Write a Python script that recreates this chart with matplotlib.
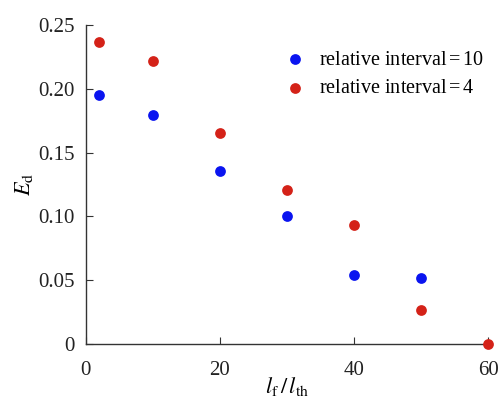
import matplotlib
matplotlib.use("Agg")
import matplotlib.pyplot as plt

plt.rcParams['font.family'] = ['Liberation Serif', 'DejaVu Serif']
plt.rcParams['mathtext.fontset'] = 'stix'

# data
x_blue = [2, 10, 20, 30, 40, 50]
ed_blue = [0.195, 0.1795, 0.1355, 0.100, 0.054, 0.052]
x_red = [2, 10, 20, 30, 40, 50, 60]
ed_red = [0.237, 0.222, 0.165, 0.1205, 0.093, 0.0265, 0.0]

xticks = [0, 20, 40, 60]
yticks = [0, 0.05, 0.10, 0.15, 0.20, 0.25]
ytick_labels = ['0', '0.05', '0.10', '0.15', '0.20', '0.25']

fig = plt.figure(figsize=(4.99, 4.0), dpi=100)
ax = fig.add_axes([0.172, 0.14, 0.806, 0.7975])

ax.scatter(x_blue, ed_blue, s=60, color='#0a14f0', label='relative interval$\\,$=$\\,$10',
           zorder=3, clip_on=False, linewidths=0)
ax.scatter(x_red, ed_red, s=60, color='#d42218', label='relative interval$\\,$=$\\,$4',
           zorder=3, clip_on=False, linewidths=0)

ax.set_xlim(0, 60)
ax.set_ylim(0, 0.25)
ax.set_xticks(xticks)
ax.set_yticks(yticks)
ax.set_yticklabels(ytick_labels)

for s in ['top', 'right']:
    ax.spines[s].set_visible(False)
for s in ['left', 'bottom']:
    ax.spines[s].set_color('#333333')
    ax.spines[s].set_linewidth(1.0)

ax.tick_params(direction='in', length=5, labelsize=15, colors='#333333',
               labelcolor='#222222')
ax.tick_params(axis='x', pad=12)
ax.tick_params(axis='y', pad=8)

ax.set_xlabel('$l_{\\mathrm{f}}\\,/\\,l_{\\mathrm{th}}$', fontsize=16, labelpad=-3)
ax.set_ylabel('$E_{\\mathrm{d}}$', fontsize=16, labelpad=2)

ax.legend(loc='upper left', bbox_to_anchor=(0.45, 0.945), frameon=False, fontsize=14.5,
          handletextpad=0.2, labelspacing=0.45, borderaxespad=0.0)

fig.savefig('out.png', dpi=100)
